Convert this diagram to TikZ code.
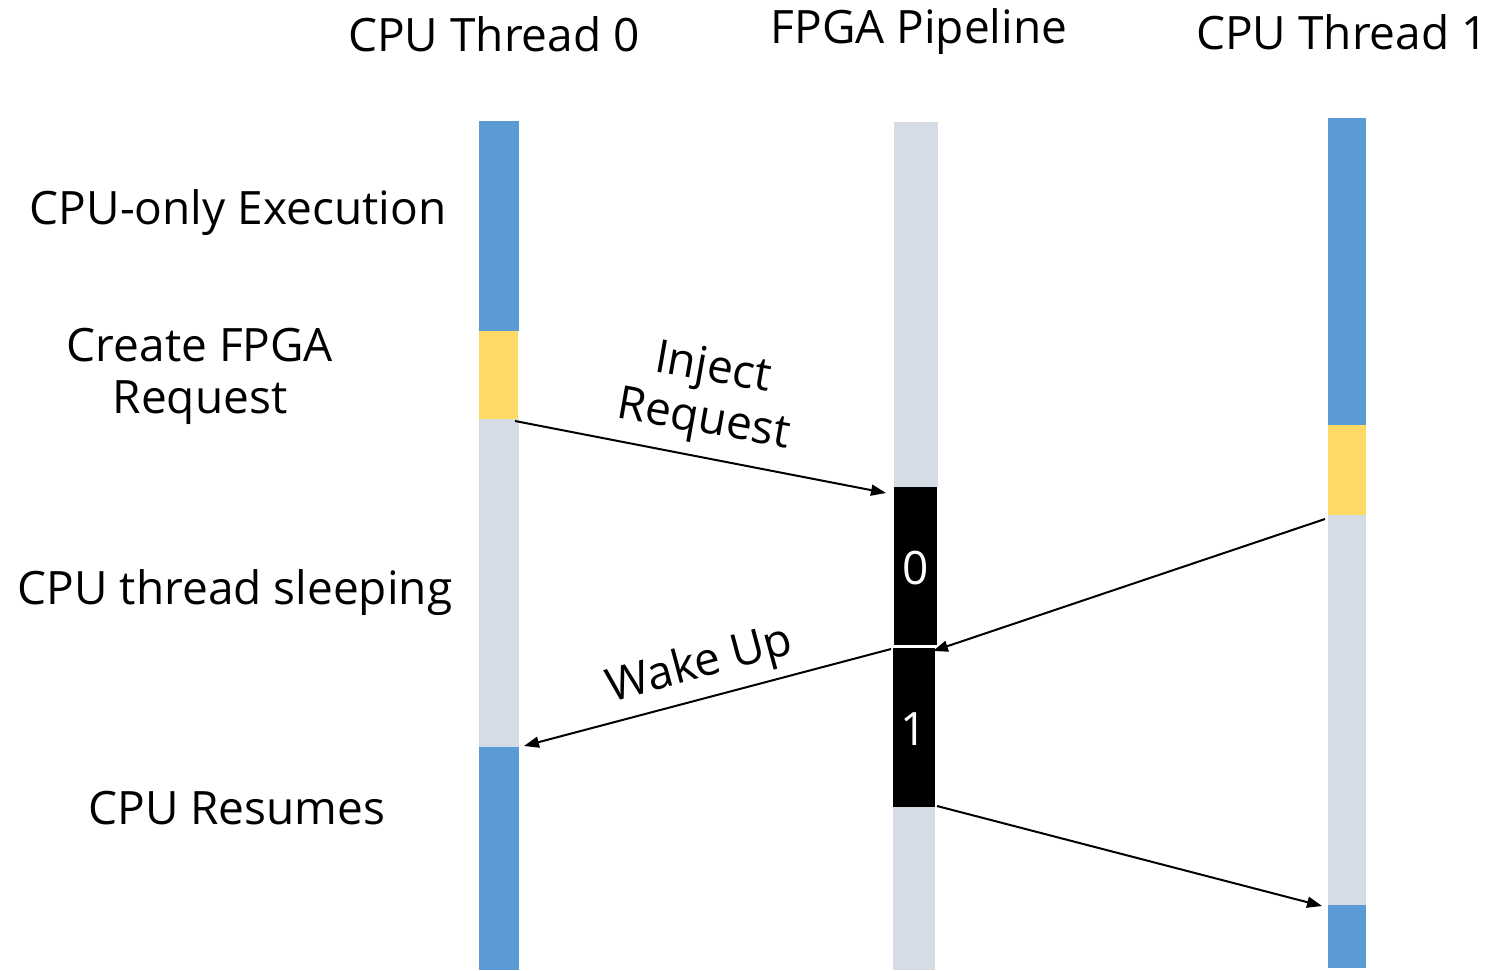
\documentclass[tikz,border=0pt]{standalone}
\usepackage{fontspec}
\setmainfont{Open Sans}
\usetikzlibrary{calc,arrows.meta}
\definecolor{cblue}{HTML}{5B9BD5}
\definecolor{cyel}{HTML}{FFD966}
\definecolor{cgray}{HTML}{D6DCE5}
\tikzset{
  seg/.style={draw=none, inner sep=0pt, outer sep=0pt, anchor=north west},
  lbl/.style={font=\fontsize{46}{56}\selectfont, inner sep=0pt, align=center},
  num/.style={font=\fontsize{46}{56}\selectfont, text=white, inner sep=0pt},
  conn/.style={line width=2pt, -{Triangle[length=15pt,width=11pt]}},
}
\begin{document}
\begin{tikzpicture}[x=1pt,y=-1pt]
\useasboundingbox[fill=white] (0,0) rectangle (1497,970);
% left bar
\node[seg, fill=cblue, minimum width=40, minimum height=210] (l1) at (479,121) {};
\node[seg, fill=cyel, minimum width=39, minimum height=88] (l2) at (479,331) {};
\node[seg, fill=cgray, minimum width=40, minimum height=328] (l3) at (479,419) {};
\node[seg, fill=cblue, minimum width=40, minimum height=223] (l4) at (479,747) {};
% middle bar
\node[seg, fill=cgray, minimum width=44, minimum height=365] (m1) at (894,122) {};
\node[seg, fill=black, minimum width=43, minimum height=158] (m2) at (894,487) {};
\node[seg, fill=black, minimum width=42, minimum height=159] (m3) at (893,648) {};
\node[seg, fill=cgray, minimum width=42, minimum height=163] (m4) at (893,807) {};
% right bar
\node[seg, fill=cblue, minimum width=38, minimum height=307] (r1) at (1328,118) {};
\node[seg, fill=cyel, minimum width=38, minimum height=90] (r2) at (1328,425) {};
\node[seg, fill=cgray, minimum width=38, minimum height=390] (r3) at (1328,515) {};
\node[seg, fill=cblue, minimum width=38, minimum height=63] (r4) at (1328,905) {};
% numbers
\node[num] (n0) at ($(m2.center)+(0,2)$) {0};
\node[num] (n1) at ($(m3.center)+(0,2)$) {1};
% headers
\node[lbl] (h0) at (494,34) {CPU Thread 0};
\node[lbl] (h1) at (919,32) {FPGA Pipeline};
\node[lbl] (h2) at (1342,32) {CPU Thread 1};
% left labels
\node[lbl] (t1) at (238,213) {CPU-only Execution};
\node[lbl, align=center] (t2) at (200,376) {Create FPGA\\[-4pt]Request};
\node[lbl] (t3) at (235,593) {CPU thread sleeping};
\node[lbl] (t4) at (237,808) {CPU Resumes};
% connectors
\coordinate (a1s) at ($(l3.north east)+(-4,2)$);
\coordinate (a1e) at ($(m2.north west)+(-8,6)$);
\draw[conn] (a1s) -- (a1e);
\coordinate (a2s) at ($(r3.north west)+(-3,4)$);
\coordinate (a2e) at ($(m2.south east)+(-4,6)$);
\draw[conn] (a2s) -- (a2e);
\coordinate (a3s) at ($(m3.north west)+(-2,1)$);
\coordinate (a3e) at ($(l4.north east)+(5,-1)$);
\draw[conn] (a3s) -- (a3e);
\coordinate (a4s) at ($(m3.south east)+(2,-1)$);
\coordinate (a4e) at ($(r4.north west)+(-6,1)$);
\draw[conn] (a4s) -- (a4e);
% connector labels
\node[lbl, rotate=-10] (lab1) at (708,396) {Inject\\[-4pt]Request};
\node[lbl, rotate=15] (lab2) at (700,666) {Wake Up};
\end{tikzpicture}
\end{document}
